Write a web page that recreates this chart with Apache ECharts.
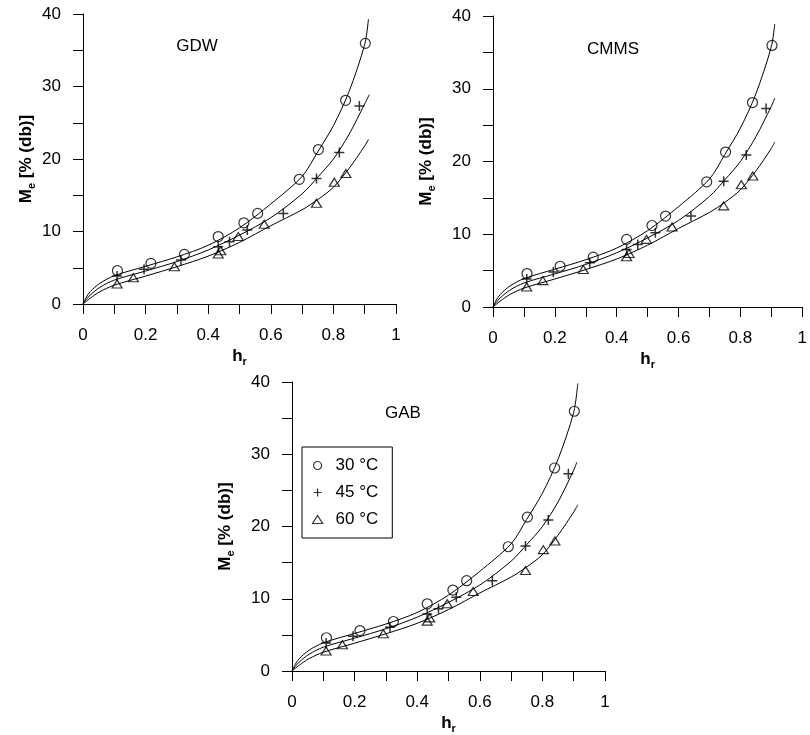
<!DOCTYPE html>
<html><head><meta charset="utf-8">
<script src="https://cdn.jsdelivr.net/npm/echarts@6/dist/echarts.min.js"></script>
<style>html,body{margin:0;padding:0;background:#fff}#c{width:810px;height:735px}</style>
</head><body><div id="c"></div>
<script>
// ---- data ----
const modelNames = ['GDW', 'CMMS', 'GAB'];
const tempNames = ['30 °C', '45 °C', '60 °C'];
const xTickLabels = ['0', '0.2', '0.4', '0.6', '0.8', '1'];
const yTickLabels = ['0', '10', '20', '30', '40'];

// experimental points [h_r, M_e]
const exp30 = [[0.110,4.6],[0.217,5.6],[0.324,6.85],[0.432,9.3],[0.514,11.2],[0.558,12.5],[0.691,17.2],[0.752,21.3],[0.839,28.1],[0.902,35.95]];
const exp45 = [[0.109,3.86],[0.195,4.8],[0.313,6.07],[0.432,7.9],[0.468,8.6],[0.525,10.2],[0.640,12.5],[0.746,17.3],[0.819,20.9],[0.883,27.3]];
const exp60 = [[0.109,2.76],[0.161,3.63],[0.292,5.15],[0.432,6.9],[0.440,7.35],[0.496,9.3],[0.579,11.0],[0.746,13.9],[0.803,16.8],[0.840,18.0]];

// fitted curves
const gdw30 = [[0,0],[0.01,0.9],[0.023,1.7],[0.054,2.86],[0.1,3.9],[0.2,5.2],[0.3,6.5],[0.4,8.1],[0.5,10.5],[0.6,13.8],[0.7,17.6],[0.75,21.0],[0.8,24.6],[0.85,29.3],[0.9,35.8],[0.912,39.3]];
const gdw45 = [[0,0],[0.01,0.6],[0.023,1.24],[0.054,2.3],[0.1,3.3],[0.2,4.55],[0.3,5.85],[0.4,7.45],[0.5,9.5],[0.6,11.9],[0.7,15.2],[0.75,17.5],[0.8,20.0],[0.85,23.4],[0.9,27.6],[0.915,28.9]];
const gdw60 = [[0,0],[0.01,0.35],[0.023,0.8],[0.054,1.7],[0.1,2.6],[0.2,3.85],[0.3,5.15],[0.4,6.6],[0.5,8.5],[0.6,10.8],[0.7,13.0],[0.75,14.4],[0.8,16.1],[0.85,18.7],[0.9,21.8],[0.912,22.7]];
const cmms30 = [[0,0],[0.01,0.9],[0.023,1.7],[0.054,2.86],[0.1,3.9],[0.2,5.2],[0.3,6.5],[0.4,8.1],[0.5,10.5],[0.6,13.8],[0.7,17.6],[0.75,21.0],[0.8,24.6],[0.85,29.3],[0.9,35.8],[0.911,38.9]];
const cmms45 = [[0,0],[0.01,0.6],[0.023,1.24],[0.054,2.3],[0.1,3.3],[0.2,4.55],[0.3,5.85],[0.4,7.45],[0.5,9.5],[0.6,11.9],[0.7,15.2],[0.75,17.5],[0.8,20.0],[0.85,23.4],[0.9,27.6],[0.911,28.7]];
const cmms60 = [[0,0],[0.01,0.35],[0.023,0.8],[0.054,1.7],[0.1,2.6],[0.2,3.85],[0.3,5.15],[0.4,6.6],[0.5,8.5],[0.6,10.8],[0.7,13.0],[0.75,14.4],[0.8,16.1],[0.85,18.7],[0.9,21.8],[0.911,22.7]];
const gab30 = [[0,0],[0.01,0.9],[0.023,1.7],[0.054,2.86],[0.1,3.9],[0.2,5.2],[0.3,6.5],[0.4,8.1],[0.5,10.5],[0.6,13.8],[0.7,17.6],[0.75,21.0],[0.8,24.6],[0.85,29.3],[0.9,35.8],[0.913,39.8]];
const gab45 = [[0,0],[0.01,0.6],[0.023,1.24],[0.054,2.3],[0.1,3.3],[0.2,4.55],[0.3,5.85],[0.4,7.45],[0.5,9.5],[0.6,11.9],[0.7,15.2],[0.75,17.5],[0.8,20.0],[0.85,23.4],[0.9,27.8],[0.91,28.9]];
const gab60 = [[0,0],[0.01,0.35],[0.023,0.8],[0.054,1.7],[0.1,2.6],[0.2,3.85],[0.3,5.15],[0.4,6.6],[0.5,8.5],[0.6,10.8],[0.7,13.0],[0.75,14.4],[0.8,16.1],[0.85,18.8],[0.9,22.0],[0.913,23.0]];

const expData = [exp30, exp45, exp60];
const fitData = [[gdw30, gdw45, gdw60], [cmms30, cmms45, cmms60], [gab30, gab45, gab60]];

// ---- layout / styles ----
const FONT = 'Liberation Sans, Arial, sans-serif';
const FS = 17;
const grids = [
  { left: 83, top: 14, width: 313, height: 290 },
  { left: 493, top: 16, width: 314, height: 291 },
  { left: 292, top: 382, width: 313, height: 290 }
];
const yNameGaps = [46, 56, 56];
const titlePos = [[197, 38], [613, 41], [403, 405]];

const symbols = [
  { symbol: 'circle', size: 10, bw: 1.2 },
  { symbol: 'path://M0,5L10,5M5,0L5,10', size: 10, bw: 1.5 },
  { symbol: 'triangle', size: [10, 8], bw: 1.2 }
];

const black = '#000';
const subRich = { sub: { fontSize: 11, fontWeight: 'bold', fontFamily: FONT, color: black, padding: [10, 0, 0, 0] } };

const xAxes = [], yAxes = [], series = [], titles = [];
grids.forEach((g, i) => {
  xAxes.push({
    gridIndex: i, type: 'value', min: 0, max: 1, interval: 0.2,
    name: 'h{sub|r}', nameLocation: 'middle', nameGap: 42,
    nameTextStyle: { fontSize: FS, fontWeight: 'bold', fontFamily: FONT, color: black, rich: subRich },
    axisLine: { show: true, onZero: false, lineStyle: { color: black, width: 1 } },
    axisTick: { show: true, inside: false, length: 10, lineStyle: { color: black, width: 1 } },
    minorTick: { show: true, splitNumber: 2, length: 10, lineStyle: { color: black, width: 1 } },
    splitLine: { show: false }, minorSplitLine: { show: false },
    axisLabel: { margin: 23, fontSize: FS, fontFamily: FONT, color: black,
      formatter: v => xTickLabels[Math.round(v / 0.2)] },
    z: 5
  });
  yAxes.push({
    gridIndex: i, type: 'value', min: 0, max: 40, interval: 10,
    name: 'M{sub|e} [% (db)]', nameLocation: 'middle', nameGap: yNameGaps[i],
    nameTextStyle: { fontSize: FS, fontWeight: 'bold', fontFamily: FONT, color: black, rich: subRich },
    axisLine: { show: true, onZero: false, lineStyle: { color: black, width: 1 } },
    axisTick: { show: true, inside: false, length: 10, lineStyle: { color: black, width: 1 } },
    minorTick: { show: true, splitNumber: 2, length: 10, lineStyle: { color: black, width: 1 } },
    splitLine: { show: false }, minorSplitLine: { show: false },
    axisLabel: { margin: 22, fontSize: FS, fontFamily: FONT, color: black,
      formatter: v => yTickLabels[Math.round(v / 10)] },
    z: 5
  });
  titles.push({
    text: modelNames[i], left: titlePos[i][0], top: titlePos[i][1], textAlign: 'center', padding: 0,
    textStyle: { fontSize: FS, fontWeight: 'normal', fontFamily: FONT, color: black }
  });
  fitData[i].forEach((d, k) => {
    series.push({
      type: 'line', name: 'fit' + i + k, xAxisIndex: i, yAxisIndex: i, data: d,
      smooth: 0.3, showSymbol: false, symbol: 'none', silent: true,
      lineStyle: { color: black, width: 1 }, z: 2
    });
  });
  expData.forEach((d, k) => {
    series.push({
      type: 'scatter', name: tempNames[k], xAxisIndex: i, yAxisIndex: i, data: d,
      symbol: symbols[k].symbol, symbolSize: symbols[k].size,
      itemStyle: { color: 'transparent', borderColor: black, borderWidth: symbols[k].bw }, z: 3
    });
  });
});

const option = {
  backgroundColor: '#fff',
  animation: false,
  title: titles,
  grid: grids.map(g => Object.assign({ containLabel: false }, g)),
  xAxis: xAxes,
  yAxis: yAxes,
  legend: {
    data: tempNames, orient: 'vertical', left: 302, top: 447,
    borderColor: black, borderWidth: 1, borderRadius: 0,
    padding: [10, 14, 10, 10], itemGap: 10, itemWidth: 10, itemHeight: 8,
    itemStyle: { color: 'transparent', borderColor: black, borderWidth: 1.2 },
    textStyle: { fontSize: FS, fontFamily: FONT, color: black, padding: [0, 0, 0, 8] },
    selectedMode: false
  },
  series: series
};
const chart = echarts.init(document.getElementById('c'), null, { renderer: 'canvas' });
chart.setOption(option);
</script></body></html>
